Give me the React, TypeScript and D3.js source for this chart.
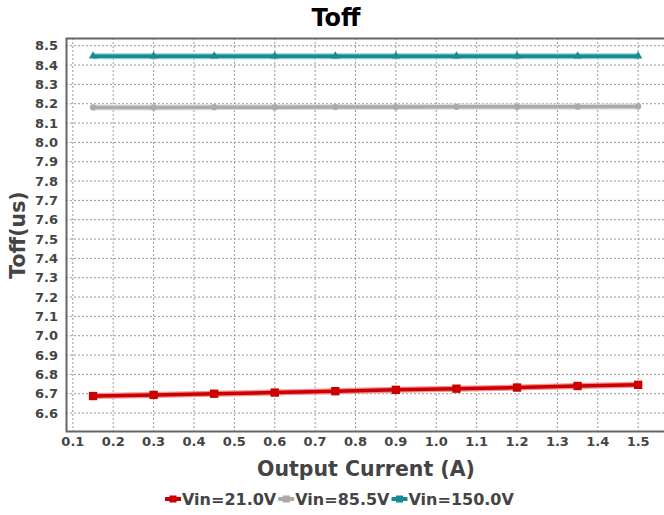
import React, { useRef, useEffect } from "react";
import * as d3 from "d3";

const currents = [0.15, 0.3, 0.45, 0.6, 0.75, 0.9, 1.05, 1.2, 1.35, 1.5];
const vin21 = [6.688, 6.694, 6.7, 6.706, 6.713, 6.72, 6.726, 6.732, 6.74, 6.746];
const vin85 = [8.181, 8.181, 8.182, 8.182, 8.183, 8.183, 8.184, 8.184, 8.185, 8.186];
const vin150 = [8.446, 8.446, 8.446, 8.446, 8.446, 8.446, 8.446, 8.446, 8.446, 8.446];
const xTicks = [0.1, 0.2, 0.3, 0.4, 0.5, 0.6, 0.7, 0.8, 0.9, 1.0, 1.1, 1.2, 1.3, 1.4, 1.5];
const yTicks = [6.6, 6.7, 6.8, 6.9, 7.0, 7.1, 7.2, 7.3, 7.4, 7.5, 7.6, 7.7, 7.8, 7.9, 8.0, 8.1, 8.2, 8.3, 8.4, 8.5];

const series = [
  { name: "Vin=21.0V", values: vin21, color: "#cc0000", halo: "#f09090", marker: "square" },
  { name: "Vin=85.5V", values: vin85, color: "#aaaaaa", halo: "#dddddd", marker: "circle" },
  { name: "Vin=150.0V", values: vin150, color: "#158b96", halo: "#8fcbd2", marker: "triangle" },
];

const App: React.FC = () => {
  const svgRef = useRef<SVGSVGElement>(null);

  useEffect(() => {
    const width = 664;
    const height = 515;
    const margin = { top: 38, right: 0, bottom: 83, left: 66 };

    const svgEl = d3.select(svgRef.current);
    svgEl.selectAll("*").remove();
    svgEl.attr("width", width).attr("height", height);

    const x = d3.scaleLinear().domain([0.083, 1.564]).range([margin.left, width - margin.right]);
    const y = d3.scaleLinear().domain([6.502, 8.54]).range([height - margin.bottom, margin.top]);

    const font = "DejaVu Sans, sans-serif";

    // grid
    const grid = svgEl.append("g");
    grid.selectAll(".vg").data(xTicks).enter().append("line")
      .attr("x1", d => x(d)).attr("x2", d => x(d))
      .attr("y1", margin.top).attr("y2", height - margin.bottom)
      .attr("stroke", "#999").attr("stroke-width", 1).attr("stroke-dasharray", "2,2");
    grid.selectAll(".hg").data(yTicks).enter().append("line")
      .attr("x1", margin.left).attr("x2", width - margin.right)
      .attr("y1", d => y(d)).attr("y2", d => y(d))
      .attr("stroke", "#999").attr("stroke-width", 1).attr("stroke-dasharray", "2,2");

    // frame
    svgEl.append("path")
      .attr("d", `M${width},${margin.top + 0.5}H${margin.left + 0.5}V${height - margin.bottom - 0.5}H${width}`)
      .attr("fill", "none").attr("stroke", "#666").attr("stroke-width", 2);

    // tick labels
    svgEl.append("g").selectAll("text").data(yTicks).enter().append("text")
      .attr("x", margin.left - 8).attr("y", d => y(d)).attr("dy", "0.35em")
      .attr("text-anchor", "end").attr("font-family", font).attr("font-weight", "bold")
      .attr("font-size", 13).attr("fill", "#444").text(d => d.toFixed(1));
    svgEl.append("g").selectAll("text").data(xTicks).enter().append("text")
      .attr("x", d => x(d)).attr("y", height - margin.bottom + 14)
      .attr("text-anchor", "middle").attr("font-family", font).attr("font-weight", "bold")
      .attr("font-size", 13).attr("fill", "#444").text(d => d.toFixed(1));

    // lines
    const line = d3.line<number>().x((_, i) => x(currents[i])).y(d => y(d));
    series.forEach(s => {
      svgEl.append("path").datum(s.values).attr("d", line)
        .attr("fill", "none").attr("stroke", s.halo).attr("stroke-width", 6);
      svgEl.append("path").datum(s.values).attr("d", line)
        .attr("fill", "none").attr("stroke", s.color).attr("stroke-width", 3.5);
      const sym = s.marker === "square" ? d3.symbolSquare : s.marker === "circle" ? d3.symbolCircle : d3.symbolTriangle;
      const size = s.marker === "square" ? 70 : 30;
      svgEl.append("g").selectAll("path").data(s.values).enter().append("path")
        .attr("transform", (d, i) => `translate(${x(currents[i])},${y(d)})`)
        .attr("d", d3.symbol().type(sym).size(size)())
        .attr("fill", s.color);
    });

    // titles
    svgEl.append("text").attr("x", 336).attr("y", 26).attr("text-anchor", "middle")
      .attr("font-family", font).attr("font-weight", "bold").attr("font-size", 24)
      .attr("fill", "#000").text("Toff");
    svgEl.append("text").attr("x", 366).attr("y", 476).attr("text-anchor", "middle")
      .attr("font-family", font).attr("font-weight", "bold").attr("font-size", 20.5)
      .attr("fill", "#444").text("Output Current (A)");
    svgEl.append("text").attr("transform", `translate(25,${(margin.top + height - margin.bottom) / 2}) rotate(-90)`)
      .attr("text-anchor", "middle")
      .attr("font-family", font).attr("font-weight", "bold").attr("font-size", 20.5)
      .attr("fill", "#444").text("Toff(us)");

    // legend
    const legend = svgEl.append("g").attr("transform", "translate(165,499)");
    let lx = 0;
    series.forEach(s => {
      const g = legend.append("g").attr("transform", `translate(${lx},0)`);
      g.append("line").attr("x1", 0).attr("x2", 16).attr("y1", 0).attr("y2", 0)
        .attr("stroke", s.color).attr("stroke-width", 4);
      g.append("rect").attr("x", 4.5).attr("y", -3.5).attr("width", 7).attr("height", 7).attr("fill", s.color);
      const t = g.append("text").attr("x", 17).attr("dy", "0.36em")
        .attr("font-family", font).attr("font-weight", "bold").attr("font-size", 16)
        .attr("fill", "#444").text(s.name);
      const w = (t.node() as SVGTextElement).getComputedTextLength();
      lx += 17 + w + 2;
    });
  }, []);

  return <svg ref={svgRef} style={{ position: "absolute", left: 0, top: 0 }} />;
};

export default App;
